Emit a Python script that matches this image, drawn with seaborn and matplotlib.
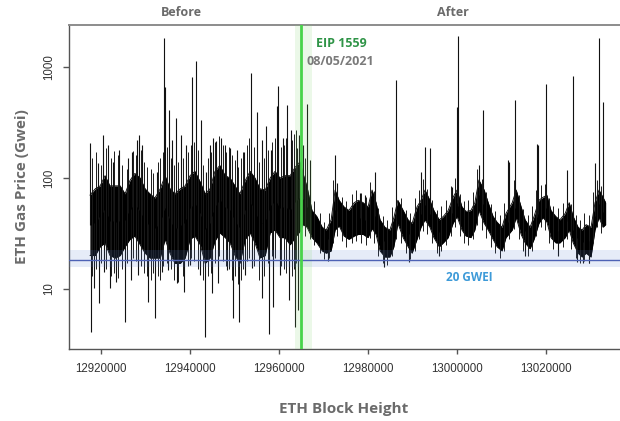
import numpy as np
import pandas as pd
import matplotlib
matplotlib.use("Agg")
import matplotlib.pyplot as plt
import seaborn as sns

# ---------------- data ----------------
core_block = [12917500, 12918700, 12919800, 12920900, 12922000, 12923200, 12924300, 12925400,
              12926500, 12927600, 12928800, 12929900, 12931000, 12932100, 12933300, 12934400,
              12935500, 12936600, 12937800, 12938900, 12940000, 12941100, 12942300, 12943400,
              12944500, 12945600, 12946700, 12947900, 12949000, 12950100, 12951200, 12952400,
              12953500, 12954600, 12955700, 12956900, 12958000, 12959100, 12960200, 12961300,
              12962500, 12963600, 12964700,
              12965400, 12966300, 12967400, 12968500, 12969700, 12970600, 12971700, 12972600,
              12973500, 12974600, 12975700, 12976900, 12977800, 12978900, 12980000, 12980900,
              12981800, 12982700, 12983800, 12984900, 12985800, 12986700, 12987900, 12989000,
              12989900, 12991000, 12991900, 12992800, 12993900, 12994800, 12996000, 12996900,
              12998000, 12999100, 13000000, 13001100, 13002000, 13003100, 13004000, 13004900,
              13006100, 13007000, 13008100, 13009000, 13010100, 13011000, 13012400, 13013300,
              13014400, 13015300, 13016400, 13017300, 13018400, 13019300, 13020200, 13021100,
              13022200, 13023100, 13024300, 13025200, 13026100, 13027200, 13028100, 13029000,
              13030100, 13031000, 13031900, 13032800, 13033400]
core_high = [70, 80, 85, 105, 85, 85, 85, 72, 95, 110, 100, 80, 72, 66, 80, 105,
             80, 72, 80, 85, 105, 115, 92, 72, 80, 115, 130, 105, 100, 85, 72, 95,
             115, 100, 80, 78, 100, 115, 100, 105, 105, 125, 140,
             110, 83, 51, 45, 36, 34, 42, 78, 63, 55, 51, 60, 63, 60, 55, 78,
             60, 42, 36, 34, 44, 63, 51, 42, 39, 55, 63, 78, 63, 51, 42, 45,
             51, 67, 78, 55, 50, 51, 60, 96, 78, 60, 45, 40, 36, 48, 60, 78,
             55, 42, 36, 45, 63, 67, 70, 51, 45, 42, 48, 60, 45, 36, 34, 38,
             36, 60, 78, 67, 60]
core_low = [20, 20, 24, 26, 20, 19, 20, 24, 28, 30, 25, 21, 19, 19, 19, 28,
            21, 17, 17, 19, 28, 30, 25, 17, 19, 27, 32, 29, 26, 20, 17, 28,
            32, 26, 19, 20, 32, 34, 29, 29, 25, 29, 33,
            38, 36, 29, 26, 22, 21, 22, 34, 37, 30, 28, 30, 31, 31, 29, 35,
            31, 22, 19.4, 19.4, 24, 39, 29, 24, 21, 28, 36, 42, 36, 29, 24, 26,
            29, 39, 45, 34, 30, 29, 34, 51, 39, 34, 28, 24, 22, 29, 34, 44,
            31, 26, 23, 28, 39, 44, 40, 29, 26, 26, 29, 34, 26, 21, 19.4, 21,
            19.4, 34, 44, 36, 38]

# short whiskers around the dense band
whisk_block = [12918000, 12918900, 12920000, 12921100, 12922200, 12922900, 12923800, 12924700,
               12925800, 12927200, 12927900, 12929000, 12929700, 12930300, 12931200, 12931700,
               12932800, 12933300, 12933900, 12934800, 12935700, 12936400, 12937300, 12938400,
               12939500, 12940200, 12940900, 12941800, 12942900, 12944000, 12944700, 12945600,
               12946500, 12947400, 12948100, 12948800, 12949400, 12950100, 12950800, 12951500,
               12951900, 12952800, 12953300, 12954400, 12955500, 12956600, 12957500, 12958400,
               12959100, 12960400, 12961100, 12961600, 12962900, 12963400, 12963800,
               12965850, 12966850, 12967950, 12969100, 12970150, 12971150, 12972150, 12973050,
               12974050, 12975150, 12976300, 12977350, 12978350, 12979450, 12980450, 12981350,
               12982250, 12983250, 12984350, 12985350, 12986250, 12987300, 12988450, 12989450,
               12990450, 12991450, 12992350, 12993350, 12994350, 12995400, 12996450, 12997450,
               12998550, 12999550, 13000550, 13001550, 13002550, 13003550, 13004450, 13005500,
               13006550, 13007550, 13008550, 13009550, 13010550, 13011700, 13012850, 13013850,
               13014850, 13015850, 13016850, 13017850, 13018850, 13019750, 13020650, 13021650,
               13022650, 13023700, 13024750, 13025650, 13026650, 13027650, 13028550, 13029550,
               13030550, 13031450, 13032350]
whisk_high = [150, 170, 130, 185, 150, 175, 160, 130, 120, 175, 160, 180, 140, 125, 120, 110,
              140, 150, 170, 190, 150, 130, 140, 150, 170, 200, 210, 180, 130, 150, 170, 210,
              240, 200, 170, 190, 160, 145, 125, 150, 170, 200, 230, 190, 140, 150, 180, 210,
              230, 190, 200, 230, 220, 250, 270,
              150, 95, 62, 48, 40, 48, 95, 85, 68, 62, 72, 78, 74, 68, 92, 76,
              54, 45, 42, 55, 80, 66, 52, 48, 66, 78, 98, 80, 64, 52, 56, 64,
              84, 100, 72, 62, 64, 75, 120, 98, 75, 58, 50, 46, 60, 76, 95, 70,
              53, 46, 56, 78, 86, 88, 66, 56, 54, 60, 75, 58, 46, 42, 48, 46,
              75, 96, 85]
whisk_low = [13, 15, 17, 15, 13, 14, 12.5, 15, 17, 19, 18, 16, 14, 13, 12, 14,
             13, 12, 16, 17, 15, 12, 11.5, 13, 16, 19, 18, 15, 12, 13, 14, 17,
             20, 18, 16, 15, 12, 13, 11, 12, 15, 18, 19, 16, 12, 13, 17, 20,
             19, 16, 15, 14, 13, 15, 17,
             30, 28, 25, 21, 18.5, 19, 26, 30, 27, 24, 26, 27, 26, 25, 29, 26,
             20, 17, 16.5, 20, 28, 26, 21, 18.5, 22, 28, 33, 31, 26, 21, 22, 25,
             30, 36, 30, 26, 25, 28, 38, 34, 29, 24, 21, 19, 22, 28, 35, 28,
             22, 20, 22, 30, 36, 34, 26, 23, 22, 24, 28, 23, 19, 17, 18, 17,
             26, 36, 32]

spike_up_block = [12917500, 12919300, 12920400, 12921600, 12922700, 12924000, 12926100, 12927000,
                  12928100, 12928500, 12929200, 12932600, 12934200, 12934400, 12935300, 12936000,
                  12936900, 12938000, 12939100, 12940400, 12941300, 12942500, 12943600, 12944500,
                  12945200, 12945800, 12947000, 12947900, 12949000, 12950600, 12952100, 12953700,
                  12955100, 12956200, 12957100, 12958200, 12959500, 12959800, 12960900, 12961800,
                  12962700, 12964000, 12964500,
                  12965400, 12966300, 12967000, 12972600, 12973000, 12978200, 12979300, 12981600,
                  12986300, 12991900, 12992800, 12993900, 12998900, 13000000, 13000200, 13004900,
                  13005800, 13011500, 13011700, 13013000, 13018000, 13018200, 13020000, 13024700,
                  13026100, 13031000, 13031900, 13032800]
spike_up_value = [207, 136, 244, 198, 139, 179, 151, 170, 220, 244, 198, 113, 1820, 660, 410, 220,
                  348, 244, 198, 810, 1130, 333, 113, 198, 229, 215, 229, 198, 186, 179, 170, 880,
                  394, 220, 294, 179, 445, 675, 229, 455, 271, 186, 244,
                  198, 465, 145, 161, 90, 73, 70, 113, 764, 113, 190, 186, 83, 437, 1900, 131,
                  410, 145, 139, 505, 202, 198, 700, 118, 830, 136, 1820, 485]

spike_down_block = [12917800, 12918400, 12919600, 12920700, 12922000, 12923400, 12925400, 12926700,
                    12928300, 12930600, 12932100, 12933700, 12935100, 12937100, 12938700, 12940000,
                    12942200, 12943400, 12944900, 12946300, 12948300, 12949700, 12951000, 12952400,
                    12953900, 12956200, 12957700, 12958600, 12960200, 12962200, 12963600, 12964300,
                    12971000, 12983600, 12989200, 12995900, 13015300, 13022700, 13027000, 13028300,
                    13029700]
spike_down_value = [4.1, 10.2, 7.5, 14.2, 10.2, 11.6, 5.0, 12.0, 13.4, 7.6, 5.5, 14.2, 14.8, 11.4,
                    9.4, 16.4, 13.4, 3.7, 9.2, 11.4, 14.8, 5.5, 5.0, 13.4, 15.5, 8.3, 3.9, 6.9,
                    13.4, 8.0, 4.5, 6.5, 17.8, 15.8, 17.5, 20.0, 20.0, 20.0, 17.5, 17.1, 17.1]

eip_block = 12965000
eip_band = [12963600, 12967400]
ref_price = 18.2
ref_band = [15.8, 22.4]
x_ticks = [12920000, 12940000, 12960000, 12980000, 13000000, 13020000]
y_ticks = [10, 100, 1000]

# ---------------- figure ----------------
sns.set_theme(style="white")
plt.rcParams["font.family"] = ["Liberation Sans", "DejaVu Sans"]

fig = plt.figure(figsize=(6.2, 4.21), dpi=100)
ax = fig.add_axes([69 / 620, 1 - 349 / 421, 1 - 69 / 620 + 0.02, 324 / 421])
ax.set_yscale("log")
ax.set_xlim(12912800, 13039400)
ax.set_ylim(2.88, 2390)

core = pd.DataFrame({"block": core_block, "high": core_high, "low": core_low})
ax.fill_between(core["block"], core["low"], core["high"], color="black", lw=0, zorder=2)
sns.lineplot(data=core, x="block", y="high", color="black", lw=0.6, ax=ax, zorder=2)
sns.lineplot(data=core, x="block", y="low", color="black", lw=0.6, ax=ax, zorder=2)

mid = np.sqrt(np.array(core_high, float) * np.array(core_low, float))
ax.vlines(whisk_block, whisk_low, whisk_high, colors="#1a1a1a", lw=0.7, zorder=2)
base_up = np.interp(spike_up_block, core_block, mid)
base_dn = np.interp(spike_down_block, core_block, mid)
ax.vlines(spike_up_block, base_up, spike_up_value, colors="#111111", lw=0.8, zorder=2)
ax.vlines(spike_down_block, spike_down_value, base_dn, colors="#111111", lw=0.8, zorder=2)

# reference band / line
ax.axhspan(ref_band[0], ref_band[1], color="#5a82d2", alpha=0.15, lw=0, zorder=3)
ax.axhline(ref_price, color="#4d62b5", lw=1.0, zorder=4)
# EIP band / line
ax.axvspan(eip_band[0], eip_band[1], color="#7fd36a", alpha=0.15, lw=0, zorder=3)
ax.axvline(eip_block, color="#48d34a", lw=2.0, zorder=5)

ax.set_xlabel("")
ax.set_ylabel("")
ax.set_xticks(x_ticks)
ax.set_xticklabels([str(t) for t in x_ticks])
ax.set_yticks(y_ticks)
ax.set_yticklabels([str(t) for t in y_ticks])
ax.minorticks_off()
ax.tick_params(axis="x", direction="out", length=3.8, width=1, color="#555555",
               pad=6.0, labelsize=8.3, labelcolor="#333333", bottom=True)
ax.tick_params(axis="y", direction="out", length=4.3, width=1, color="#555555",
               pad=6.0, labelsize=8.3, labelcolor="#333333", left=True)
for lab in ax.get_yticklabels():
    lab.set_rotation(90)
    lab.set_va("center")
    lab.set_ha("right")

for s in ["left", "bottom"]:
    ax.spines[s].set_color("#555555")
    ax.spines[s].set_linewidth(1.0)
ax.spines["top"].set_color("#8c8c8c")
ax.spines["top"].set_linewidth(1.4)
ax.spines["right"].set_visible(False)

label_font = ["Open Sans", "DejaVu Sans"]
fig.text(22 / 620, 1 - 187 / 421, "ETH Gas Price (Gwei)", rotation=90, ha="center", va="center",
         fontsize=11, fontweight="bold", color="#6b6b6b", family=label_font)
fig.text(344 / 620, 1 - 409 / 421, "ETH Block Height", ha="center", va="center",
         fontsize=11, fontweight="bold", color="#6b6b6b", family=label_font)
fig.text(181 / 620, 1 - 12 / 421, "Before", ha="center", va="center",
         fontsize=9, fontweight="bold", color="#6b6b6b", family=label_font)
fig.text(453 / 620, 1 - 12 / 421, "After", ha="center", va="center",
         fontsize=9, fontweight="bold", color="#6b6b6b", family=label_font)

ax.text(12968300, 1645, "EIP 1559", ha="left", va="center", fontsize=9, fontweight="bold",
        color="#2f9447", family=label_font, zorder=6)
ax.text(12966100, 1130, "08/05/2021", ha="left", va="center", fontsize=9, fontweight="bold",
        color="#7a7a7a", family=label_font, zorder=6)
ax.text(13002700, 12.8, "20 GWEI", ha="center", va="center", fontsize=8.5, fontweight="bold",
        color="#3d9ad8", family=label_font, zorder=6)

fig.savefig("out.png", dpi=100)
